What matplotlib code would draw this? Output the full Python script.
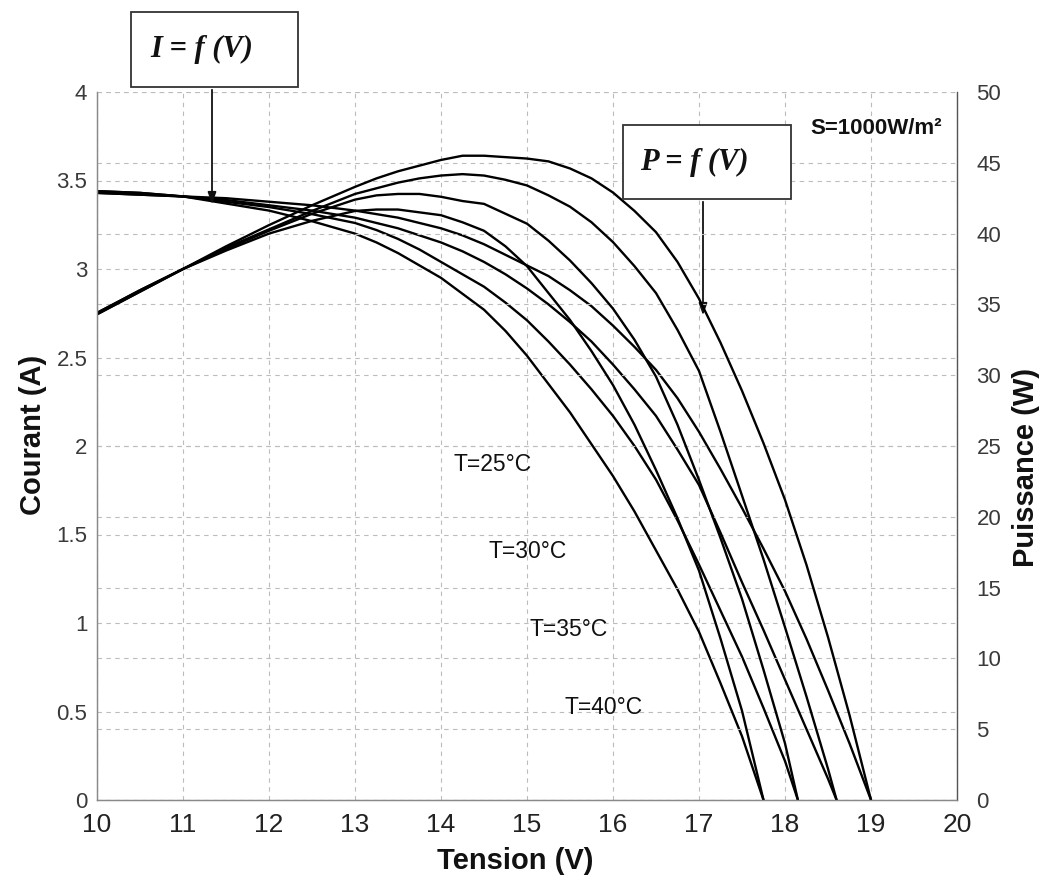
import matplotlib
matplotlib.use("Agg")
import matplotlib.pyplot as plt

# ---------------- data ----------------
temps = ["T=25°C", "T=30°C", "T=35°C", "T=40°C"]

V25 = [10, 10.5, 11, 11.5, 12, 12.5, 13, 13.25, 13.5, 13.75, 14, 14.25, 14.5, 14.75, 15, 15.25, 15.5, 15.75,
       16, 16.25, 16.5, 16.75, 17, 17.25, 17.5, 17.75, 18, 18.25, 18.5, 18.75, 19.0]
I25 = [3.43, 3.42, 3.41, 3.40, 3.38, 3.36, 3.33, 3.31, 3.29, 3.26, 3.23, 3.19, 3.14, 3.08, 3.02, 2.96, 2.88, 2.79,
       2.68, 2.56, 2.43, 2.27, 2.08, 1.87, 1.65, 1.42, 1.18, 0.91, 0.62, 0.32, 0.0]
P25 = [34.3, 35.9, 37.5, 39.1, 40.6, 42.0, 43.3, 43.9, 44.4, 44.8, 45.2, 45.5, 45.5, 45.4, 45.3, 45.1, 44.6, 43.9,
       42.9, 41.6, 40.1, 38.0, 35.4, 32.3, 28.9, 25.2, 21.2, 16.6, 11.5, 6.0, 0.0]

V30 = [10, 10.5, 11, 11.5, 12, 12.5, 13, 13.25, 13.5, 13.75, 14, 14.25, 14.5, 14.75, 15, 15.25, 15.5, 15.75,
       16, 16.25, 16.5, 16.75, 17, 17.25, 17.5, 17.75, 18, 18.25, 18.5, 18.6]
I30 = [3.43, 3.42, 3.41, 3.39, 3.36, 3.33, 3.29, 3.26, 3.23, 3.19, 3.15, 3.10, 3.04, 2.97, 2.89, 2.80, 2.70, 2.59,
       2.46, 2.32, 2.17, 1.98, 1.78, 1.51, 1.23, 0.96, 0.68, 0.40, 0.12, 0.0]
P30 = [34.3, 35.9, 37.5, 39.0, 40.3, 41.6, 42.8, 43.2, 43.6, 43.9, 44.1, 44.2, 44.1, 43.8, 43.4, 42.7, 41.9, 40.8,
       39.4, 37.7, 35.8, 33.2, 30.3, 26.0, 21.5, 17.0, 12.2, 7.3, 2.2, 0.0]

V35 = [10, 10.5, 11, 11.5, 12, 12.5, 13, 13.25, 13.5, 13.75, 14, 14.25, 14.5, 14.75, 15, 15.25, 15.5, 15.75,
       16, 16.25, 16.5, 16.75, 17, 17.25, 17.5, 17.75, 18, 18.15]
I35 = [3.44, 3.43, 3.41, 3.38, 3.35, 3.31, 3.26, 3.22, 3.17, 3.11, 3.04, 2.97, 2.90, 2.81, 2.71, 2.59, 2.46, 2.32,
       2.17, 2.00, 1.81, 1.58, 1.33, 1.07, 0.81, 0.52, 0.22, 0.0]
P35 = [34.4, 36.0, 37.5, 38.9, 40.2, 41.4, 42.4, 42.7, 42.8, 42.8, 42.6, 42.3, 42.1, 41.4, 40.7, 39.5, 38.1, 36.5,
       34.7, 32.5, 29.9, 26.5, 22.6, 18.5, 14.2, 9.2, 4.0, 0.0]

V40 = [10, 10.5, 11, 11.5, 12, 12.5, 13, 13.25, 13.5, 13.75, 14, 14.25, 14.5, 14.75, 15, 15.25, 15.5, 15.75,
       16, 16.25, 16.5, 16.75, 17, 17.25, 17.5, 17.75]
I40 = [3.44, 3.43, 3.41, 3.37, 3.33, 3.27, 3.20, 3.15, 3.09, 3.02, 2.95, 2.86, 2.77, 2.65, 2.51, 2.35, 2.19, 2.01,
       1.83, 1.63, 1.41, 1.19, 0.95, 0.66, 0.36, 0.0]
P40 = [34.4, 36.0, 37.5, 38.8, 40.0, 40.9, 41.6, 41.7, 41.7, 41.5, 41.3, 40.8, 40.2, 39.1, 37.7, 35.8, 33.9, 31.7,
       29.3, 26.5, 23.3, 19.9, 16.2, 11.4, 6.3, 0.0]

x_ticks = [10, 11, 12, 13, 14, 15, 16, 17, 18, 19, 20]
left_ticks = [0, 0.5, 1, 1.5, 2, 2.5, 3, 3.5, 4]
left_labels = ["0", "0.5", "1", "1.5", "2", "2.5", "3", "3.5", "4"]
right_ticks = [0, 5, 10, 15, 20, 25, 30, 35, 40, 45, 50]

# ---------------- figure ----------------
W, H = 1041, 886
fig = plt.figure(figsize=(W / 100, H / 100), dpi=100)
fig.patch.set_facecolor("white")

L, R, T, B = 97, 957, 92, 800
ax = fig.add_axes([L / W, 1 - B / H, (R - L) / W, (B - T) / H])
ax2 = ax.twinx()

sans = ["Liberation Sans", "DejaVu Sans"]
narrow = ["Liberation Sans Narrow", "Liberation Sans", "DejaVu Sans"]
serif = ["Liberation Serif", "DejaVu Serif"]

ax.set_xlim(10, 20)
ax.set_ylim(0, 4)
ax2.set_ylim(0, 50)

grid_kw = dict(color="#bcbcbc", linestyle=(0, (4, 4)), linewidth=0.8)
ax.grid(True, which="major", **grid_kw)
ax2.yaxis.grid(True, **grid_kw)
ax.set_axisbelow(True)
ax2.set_axisbelow(True)

ax.set_xticks(x_ticks)
ax.set_yticks(left_ticks)
ax.set_yticklabels(left_labels)
ax2.set_yticks(right_ticks)

for a in (ax, ax2):
    for s in a.spines.values():
        s.set_color("#8a8a8a")
        s.set_linewidth(0.9)
    a.spines["top"].set_visible(False)
ax2.spines["right"].set_color("#555555")

ax.tick_params(axis="both", length=0)
ax2.tick_params(axis="y", length=0, pad=14)
ax.tick_params(axis="y", pad=7)
ax.tick_params(axis="x", pad=9)

for lab in ax.get_xticklabels():
    lab.set_fontfamily(narrow)
    lab.set_fontsize(19)
    lab.set_color("#222222")
for lab in ax.get_yticklabels():
    lab.set_fontfamily(sans)
    lab.set_fontsize(16)
    lab.set_color("#3a3a3a")
for lab in ax2.get_yticklabels():
    lab.set_fontfamily(sans)
    lab.set_fontsize(16)
    lab.set_color("#3a3a3a")

line_kw = dict(color="black", linewidth=1.7, solid_capstyle="round", solid_joinstyle="round")
for V, I in ((V25, I25), (V30, I30), (V35, I35), (V40, I40)):
    ax.plot(V, I, **line_kw)
for V, P in ((V25, P25), (V30, P30), (V35, P35), (V40, P40)):
    ax2.plot(V, P, **line_kw)

ax.set_xlabel("Tension (V)", fontfamily=sans, fontsize=21, fontweight="bold", color="#111111")
ax.set_ylabel("Courant (A)", fontfamily=sans, fontsize=21, fontweight="bold", color="#111111")
ax2.set_ylabel("Puissance (W)", fontfamily=sans, fontsize=21, fontweight="bold", color="#111111")
ax.xaxis.set_label_coords(0.486, -0.066)
ax.yaxis.set_label_coords(-0.058, 0.516)
ax2.yaxis.set_label_coords(1.064, 0.47)

# temperature labels
label_pos = [(493, 465), (528, 552), (569, 630), (604, 708)]
for txt, (px, py) in zip(temps, label_pos):
    fig.text(px / W, 1 - py / H, txt, ha="center", va="center",
             fontfamily=sans, fontsize=16.5, color="#111111")

fig.text(876 / W, 1 - 128 / H, "S=1000W/m²", ha="center", va="center",
         fontfamily=sans, fontsize=16, fontweight="bold", color="#111111")

# boxed annotations with arrows
for txt, (x0, y0, x1, y1), tip in (
        ("I = f (V)", (131, 12, 298, 87), (212, 207)),
        ("P = f (V)", (623, 125, 791, 199), (703, 318))):
    rect = plt.Rectangle((x0 / W, 1 - y1 / H), (x1 - x0) / W, (y1 - y0) / H,
                         transform=fig.transFigure, fc="white", ec="#333333",
                         lw=1.3, zorder=5)
    fig.add_artist(rect)
    fig.text((x0 + x1) / 2 / W - 0.012, 1 - (y0 + y1) / 2 / H, txt,
             ha="center", va="center", fontfamily=serif, fontsize=22,
             fontstyle="italic", fontweight="bold", color="#111111", zorder=6)
    ax.annotate("", xy=(tip[0] / W, 1 - tip[1] / H), xycoords="figure fraction",
                xytext=(tip[0] / W, 1 - y1 / H), textcoords="figure fraction",
                arrowprops=dict(arrowstyle="-|>,head_length=0.7,head_width=0.25",
                                color="#111111", lw=1.3), zorder=6)

fig.savefig("out.png", dpi=100, facecolor="white")
